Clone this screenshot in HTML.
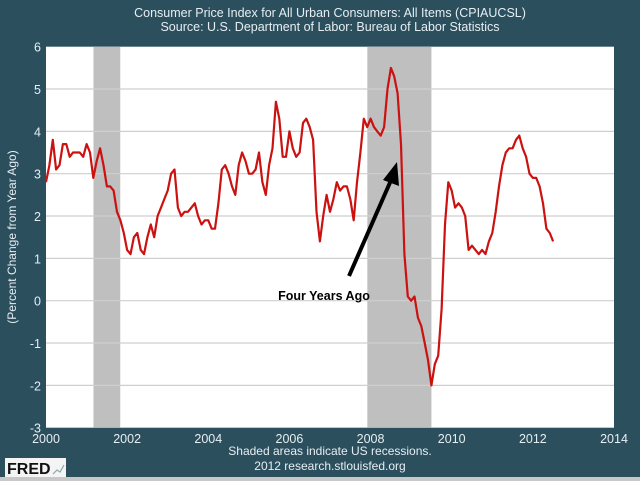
<!DOCTYPE html>
<html><head><meta charset="utf-8"><style>
body{margin:0;background:#2c4f5e;}
svg{display:block;font-family:"Liberation Sans",sans-serif;}
</style></head><body>
<svg id="chart" width="640" height="481" viewBox="0 0 640 481">
<rect x="0" y="0" width="640" height="481" fill="#2c4f5e"/>
<rect x="0" y="477" width="640" height="4" fill="#c8c8c8"/>
<text x="330" y="17" fill="#e6eef2" font-size="12.5" text-anchor="middle">Consumer Price Index for All Urban Consumers: All Items (CPIAUCSL)</text>
<text x="330" y="31" fill="#e6eef2" font-size="12.5" text-anchor="middle">Source: U.S. Department of Labor: Bureau of Labor Statistics</text>
<rect x="46" y="46.7" width="568" height="381" fill="#fff"/>
<g id="rec"></g><g id="grid"></g><g id="yt"></g><g id="xt"></g>
<path id="line" fill="none" stroke="#cc1111" stroke-width="2.2" stroke-linejoin="round"/>
<line x1="349" y1="276" x2="392" y2="178" stroke="#000" stroke-width="4"/>
<polygon points="397,162 383,180 399,186" fill="#000"/>
<text x="324" y="300" font-size="12.5" font-weight="bold" text-anchor="middle" fill="#000">Four Years Ago</text>
<text transform="translate(16,237) rotate(-90)" fill="#e6eef2" font-size="12" text-anchor="middle">(Percent Change from Year Ago)</text>
<text x="330" y="455" fill="#e6eef2" font-size="12" text-anchor="middle">Shaded areas indicate US recessions.</text>
<text x="330" y="470" fill="#e6eef2" font-size="12" text-anchor="middle">2012 research.stlouisfed.org</text>
<g><rect x="5" y="458" width="61" height="19" fill="#f4f4f4"/>
<text x="7" y="474" font-size="16" font-weight="bold" fill="#111">FRED</text>
<polyline points="53,474 57,470 60,472 64,465" fill="none" stroke="#8aa" stroke-width="1.2"/></g>
</svg>
<script>
const yTicks=[-3,-2,-1,0,1,2,3,4,5,6];
const xTicks=[2000,2002,2004,2006,2008,2010,2012,2014];
const recStarts=[2001.17,2007.92];
const recEnds=[2001.83,2009.5];
const startYear=2000;
const cpiValues=[2.8,3.2,3.8,3.1,3.2,3.7,3.7,3.4,3.5,3.5,3.5,3.4,
3.7,3.5,2.9,3.3,3.6,3.2,2.7,2.7,2.6,2.1,1.9,1.6,
1.2,1.1,1.5,1.6,1.2,1.1,1.5,1.8,1.5,2.0,2.2,2.4,
2.6,3.0,3.1,2.2,2.0,2.1,2.1,2.2,2.3,2.0,1.8,1.9,
1.9,1.7,1.7,2.3,3.1,3.2,3.0,2.7,2.5,3.2,3.5,3.3,
3.0,3.0,3.1,3.5,2.8,2.5,3.2,3.6,4.7,4.3,3.4,3.4,
4.0,3.6,3.4,3.5,4.2,4.3,4.1,3.8,2.1,1.4,2.0,2.5,
2.1,2.4,2.8,2.6,2.7,2.7,2.4,1.9,2.8,3.5,4.3,4.1,
4.3,4.1,4.0,3.9,4.1,5.0,5.5,5.3,4.9,3.7,1.1,0.1,
0.0,0.1,-0.4,-0.6,-1.0,-1.4,-2.0,-1.5,-1.3,-0.2,1.8,2.8,
2.6,2.2,2.3,2.2,2.0,1.2,1.3,1.2,1.1,1.2,1.1,1.4,
1.6,2.1,2.7,3.2,3.5,3.6,3.6,3.8,3.9,3.6,3.4,3.0,
2.9,2.9,2.7,2.3,1.7,1.6,1.4];
const X0=46,X1=614,Y0=427.7,Y1=46.7;
const xs=v=>X0+(v-2000)/14*(X1-X0);
const ys=v=>Y0-(v+3)/9*(Y0-Y1);
const NS='http://www.w3.org/2000/svg';
function mk(tag,attrs,parent){const e=document.createElementNS(NS,tag);for(const k in attrs)e.setAttribute(k,attrs[k]);document.getElementById(parent).appendChild(e);return e;}
recStarts.forEach((s,i)=>{
 const r=mk('rect',{x:xs(s),y:Y1,width:xs(recEnds[i])-xs(s),height:Y0-Y1,fill:'#bfbfbf'},'rec');
 
 
});
yTicks.forEach(t=>{
 if(t>-3&&t<6){const l=mk('line',{x1:X0,x2:X1,y1:ys(t),y2:ys(t),stroke:'#cfcfcf','stroke-width':1.2},'grid');
 
 }
 const tx=mk('text',{x:41,y:ys(t)+5,'text-anchor':'end','font-size':12.5,fill:'#e6eef2'},'yt');
 tx.textContent=t;
 
 
});
xTicks.forEach(t=>{
 const tx=mk('text',{x:xs(t),y:443,'text-anchor':'middle','font-size':12.5,fill:'#e6eef2'},'xt');
 tx.textContent=t;
 
 
});
let d='';
cpiValues.forEach((v,i)=>{d+=(i?'L':'M')+xs(startYear+i/12).toFixed(1)+','+ys(v).toFixed(1);});
document.getElementById('line').setAttribute('d',d);
</script>
</body></html>
